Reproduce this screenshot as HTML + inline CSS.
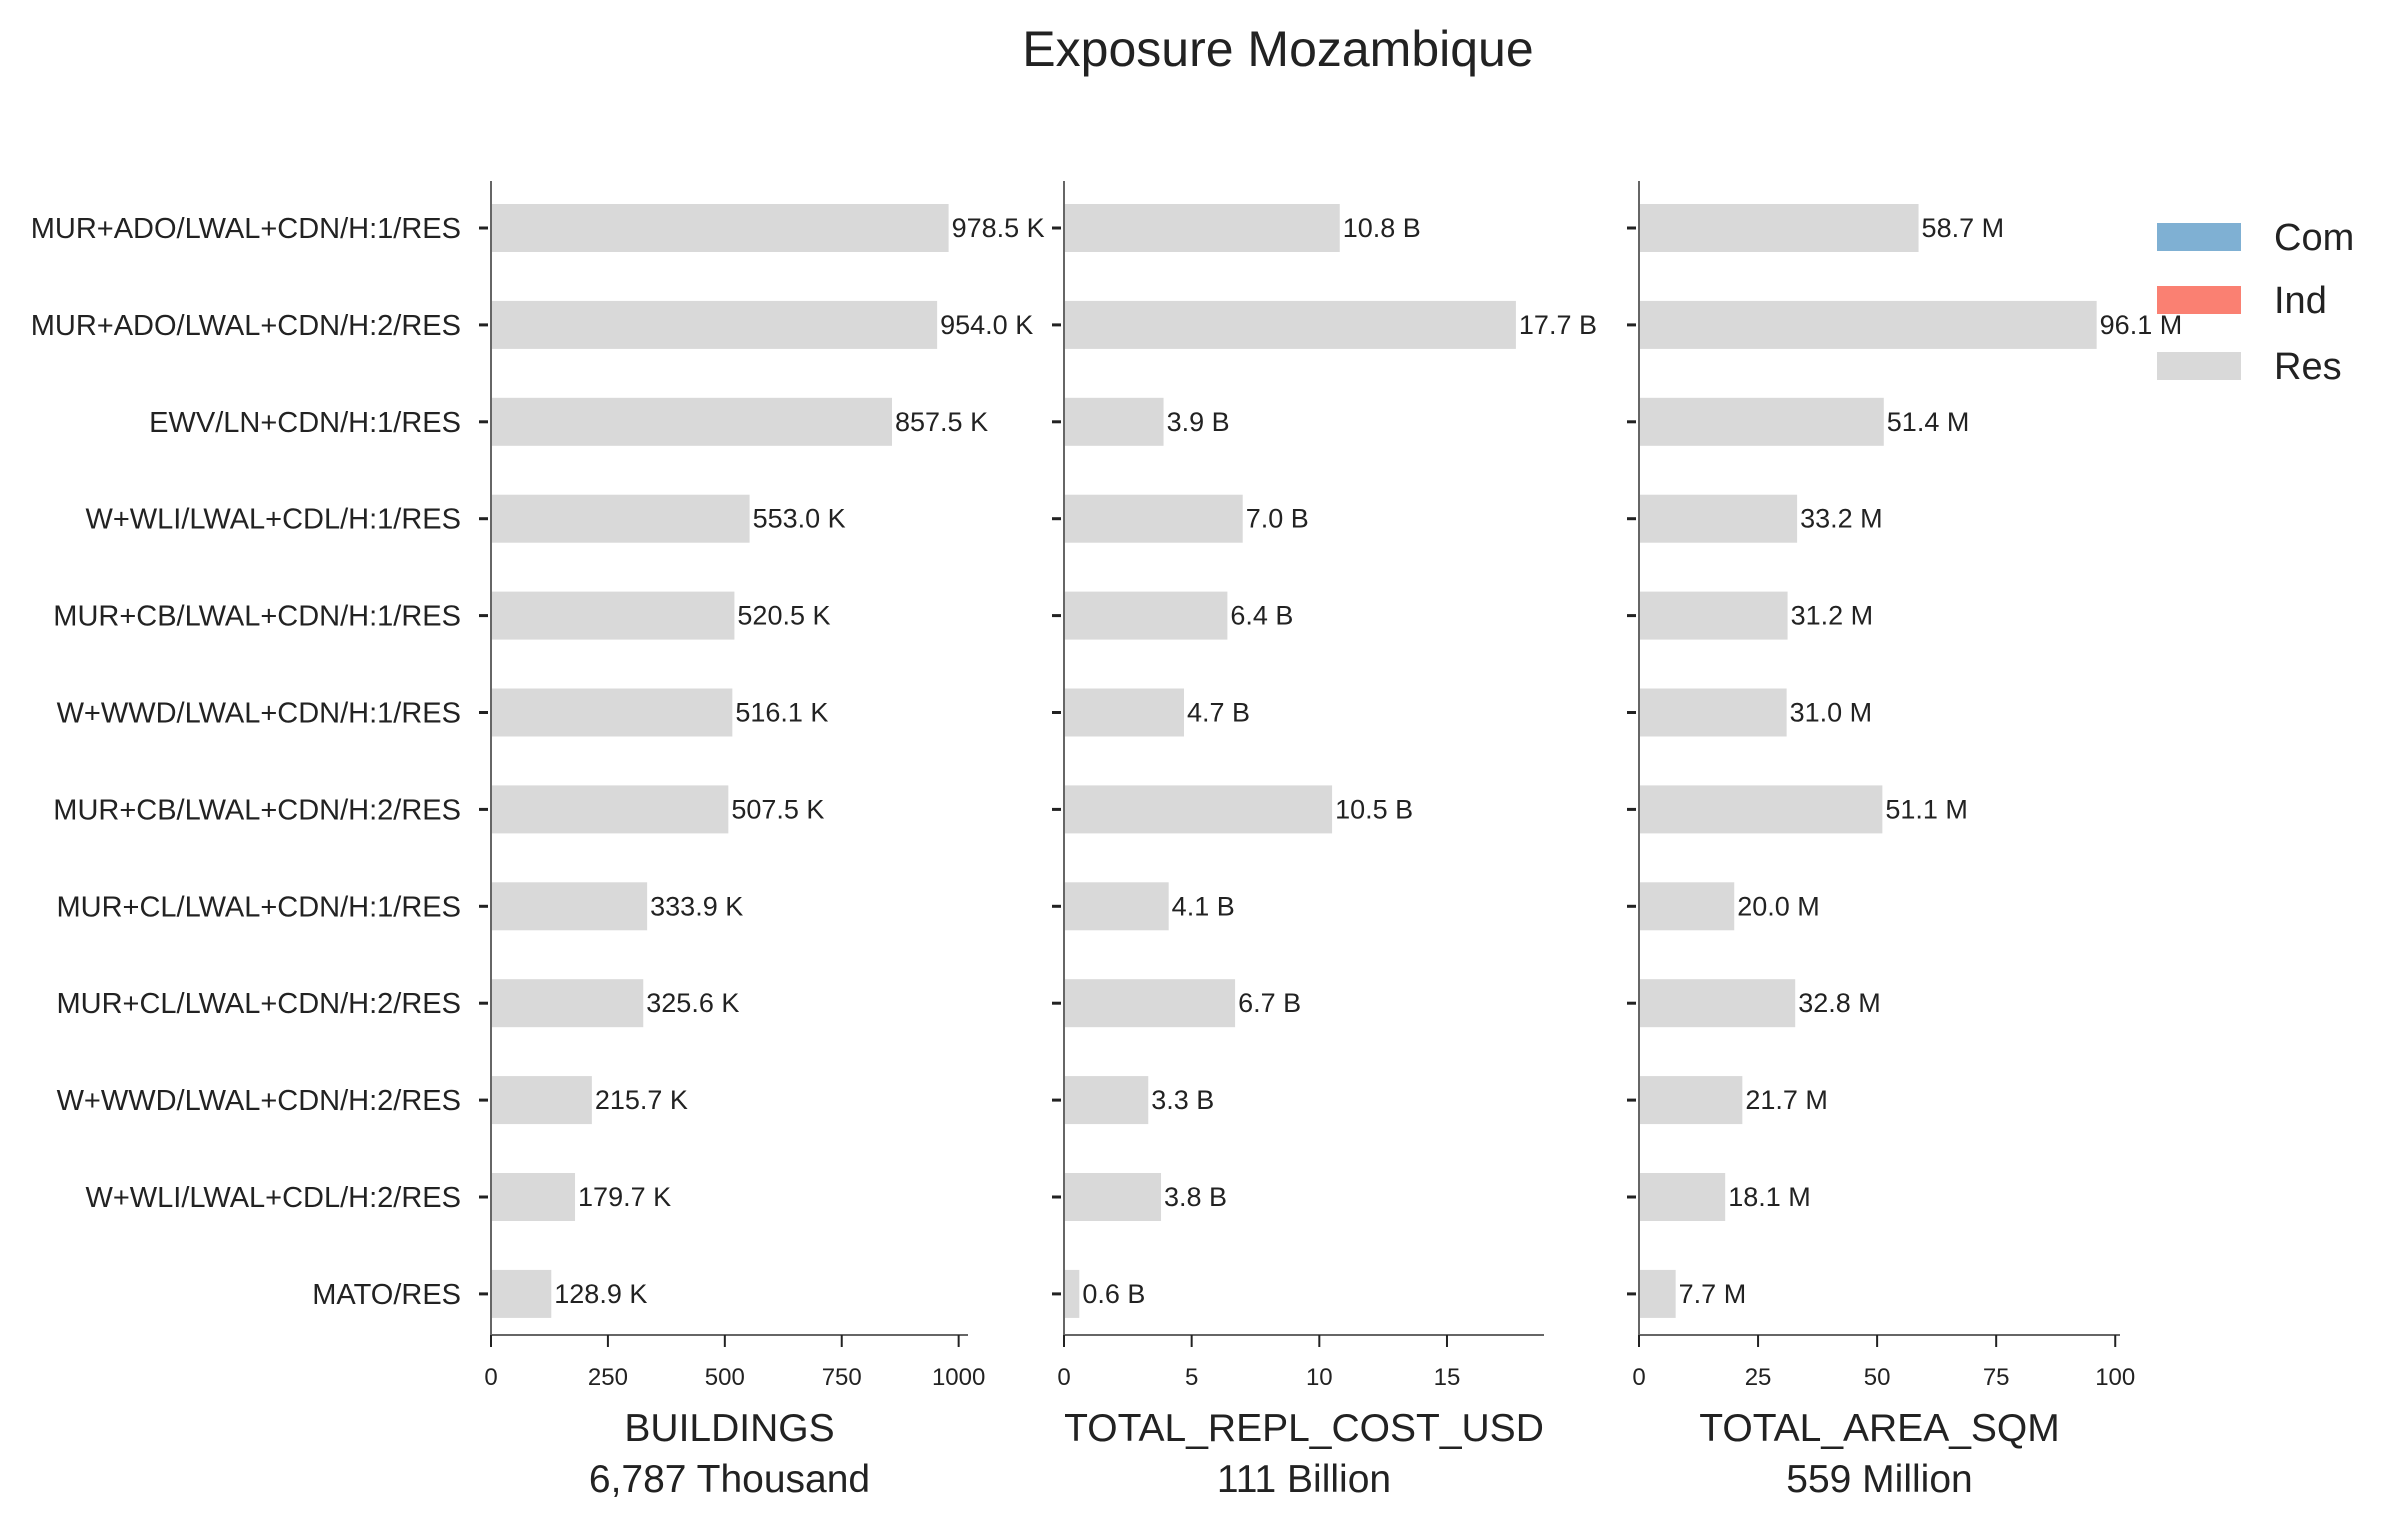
<!DOCTYPE html>
<html><head><meta charset="utf-8"><style>
html,body{margin:0;padding:0;background:#fff}
svg{display:block;font-family:"Liberation Sans Narrow","Liberation Sans",sans-serif}
</style></head><body>
<svg id="chart" width="2408" height="1534" viewBox="0 0 2408 1534" xmlns="http://www.w3.org/2000/svg">
<text x="1278" y="66" text-anchor="middle" font-size="50" fill="#222">Exposure Mozambique</text>
<g>
<rect x="2157" y="223" width="84" height="28" fill="#7fb0d3"/>
<text x="2274" y="250" font-size="38" fill="#222">Com</text>
<rect x="2157" y="286" width="84" height="28" fill="#fa8072"/>
<text x="2274" y="313" font-size="38" fill="#222">Ind</text>
<rect x="2157" y="352" width="84" height="28" fill="#d9d9d9"/>
<text x="2274" y="379" font-size="38" fill="#222">Res</text>
</g>
</svg>
<script>
const categories=["MUR+ADO/LWAL+CDN/H:1/RES","MUR+ADO/LWAL+CDN/H:2/RES","EWV/LN+CDN/H:1/RES","W+WLI/LWAL+CDL/H:1/RES","MUR+CB/LWAL+CDN/H:1/RES","W+WWD/LWAL+CDN/H:1/RES","MUR+CB/LWAL+CDN/H:2/RES","MUR+CL/LWAL+CDN/H:1/RES","MUR+CL/LWAL+CDN/H:2/RES","W+WWD/LWAL+CDN/H:2/RES","W+WLI/LWAL+CDL/H:2/RES","MATO/RES"];
const buildings=[978.5,954.0,857.5,553.0,520.5,516.1,507.5,333.9,325.6,215.7,179.7,128.9];
const replCost=[10.8,17.7,3.9,7.0,6.4,4.7,10.5,4.1,6.7,3.3,3.8,0.6];
const areaSqm=[58.7,96.1,51.4,33.2,31.2,31.0,51.1,20.0,32.8,21.7,18.1,7.7];
const ticksB=[0,250,500,750,1000];
const ticksC=[0,5,10,15];
const ticksA=[0,25,50,75,100];
const titles=["BUILDINGS","TOTAL_REPL_COST_USD","TOTAL_AREA_SQM"];
const subtitles=["6,787 Thousand","111 Billion","559 Million"];
const suffixes=["K","B","M"];

const NS="http://www.w3.org/2000/svg";
const svg=document.getElementById("chart");
function mk(tag,attrs,parent){const e=document.createElementNS(NS,tag);for(const k in attrs)e.setAttribute(k,attrs[k]);(parent||svg).appendChild(e);return e;}
const topY=181,bottomY=1335,y0=228,step=96.9,barH=48;
const yPos=i=>y0+i*step;
const panels=[
 {vals:buildings,ticks:ticksB,x0:491,x1:968,max:1020,name:"buildings"},
 {vals:replCost,ticks:ticksC,x0:1064,x1:1544,max:18.8,name:"repl-cost"},
 {vals:areaSqm,ticks:ticksA,x0:1639,x1:2120,max:101,name:"area"}];
panels.forEach((p,pi)=>{
 const g=mk("g",{});
 
 
 const xs=v=>p.x0+v/p.max*(p.x1-p.x0);
 p.vals.forEach((v,i)=>{
  const r=mk("rect",{x:p.x0,y:yPos(i)-barH/2,width:xs(v)-p.x0,height:barH,fill:"#d9d9d9"},g);
  
  
  const t=mk("text",{x:xs(v)+3,y:yPos(i)+9,"font-size":27,fill:"#222"},g);
  t.textContent=v.toFixed(1)+" "+suffixes[pi];
  
  
  mk("line",{x1:p.x0-12,x2:p.x0-3,y1:yPos(i),y2:yPos(i),stroke:"#222","stroke-width":3},g);
  if(pi===0){
   const c=mk("text",{x:461,y:yPos(i)+10,"font-size":29,fill:"#222","text-anchor":"end"},g);
   c.textContent=categories[i];
   
   
  }
 });
 mk("line",{x1:p.x0,x2:p.x0,y1:topY,y2:bottomY,stroke:"#666","stroke-width":2},g);
 mk("line",{x1:p.x0,x2:p.x1,y1:bottomY,y2:bottomY,stroke:"#666","stroke-width":2},g);
 p.ticks.forEach(tv=>{
  const x=xs(tv);
  mk("line",{x1:x,x2:x,y1:bottomY,y2:bottomY+12,stroke:"#222","stroke-width":2},g);
  const t=mk("text",{x:x,y:1385,"font-size":24,fill:"#222","text-anchor":"middle"},g);
  t.textContent=tv;
  
  
 });
 const cx=(p.x0+p.x1)/2;
 const a=mk("text",{x:cx,y:1441,"font-size":39,fill:"#222","text-anchor":"middle"},g);
 a.textContent=titles[pi];
 
 
 const s=mk("text",{x:cx,y:1492,"font-size":39,fill:"#222","text-anchor":"middle"},g);
 s.textContent=subtitles[pi];
 
 
});
</script>
</body></html>
